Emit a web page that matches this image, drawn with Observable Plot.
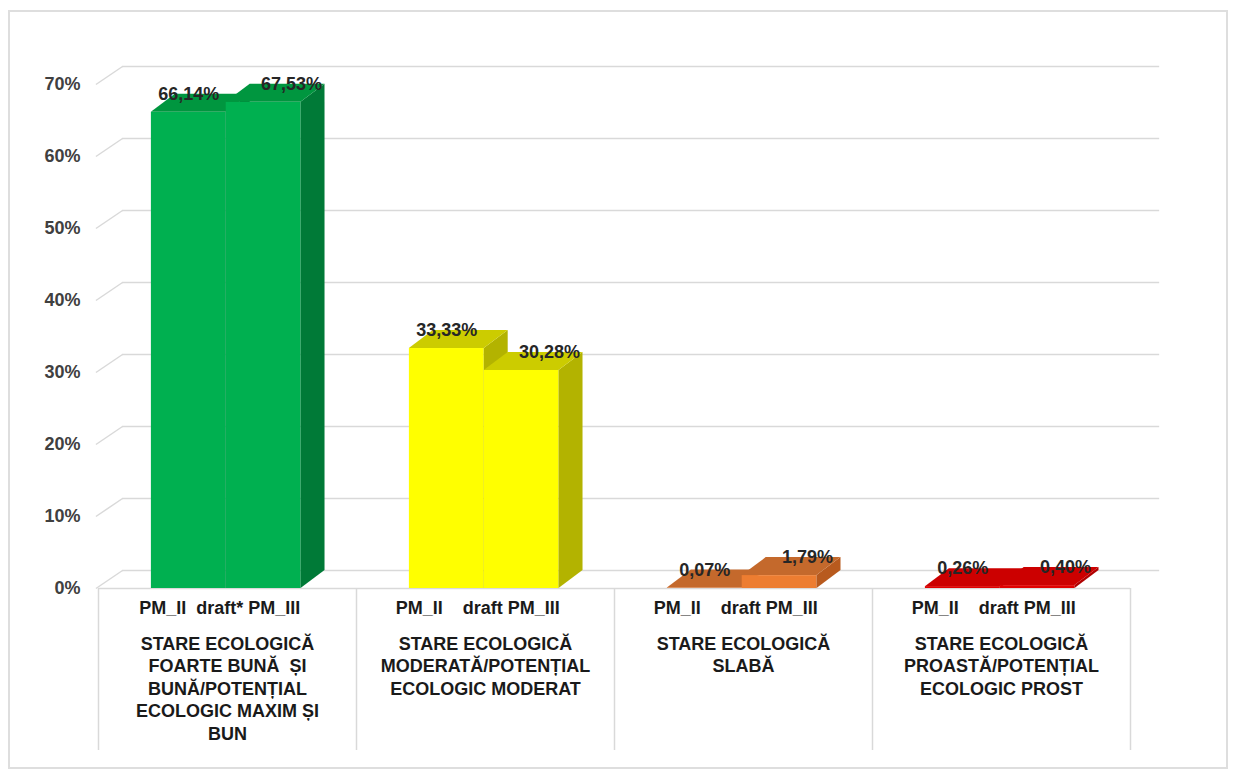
<!DOCTYPE html>
<html><head><meta charset="utf-8">
<script src="https://cdn.jsdelivr.net/npm/d3@7"></script>
<script src="https://cdn.jsdelivr.net/npm/@observablehq/plot@0.6"></script>
<style>
body{margin:0;background:#fff;}
#wrap{position:relative;width:1236px;height:773px;}
#frame{position:absolute;left:8px;top:10px;width:1220px;height:759px;border:2px solid #dedede;pointer-events:none;box-sizing:border-box;}
svg text{white-space:pre;}
g[aria-label="category-names"] text{letter-spacing:0.7px;}
</style></head><body><div id="wrap"><div id="frame"></div></div>
<script>
// ---- data ----
const categories = [
  "STARE ECOLOGICĂ\nFOARTE BUNĂ  ȘI\nBUNĂ/POTENȚIAL\nECOLOGIC MAXIM ȘI\nBUN",
  "STARE ECOLOGICĂ\nMODERATĂ/POTENȚIAL\nECOLOGIC MODERAT",
  "STARE ECOLOGICĂ\nSLABĂ",
  "STARE ECOLOGICĂ\nPROASTĂ/POTENȚIAL\nECOLOGIC PROST"
];
const seriesRow = ["PM_II  draft* PM_III", "PM_II    draft PM_III", "PM_II    draft PM_III", "PM_II    draft PM_III"];
const pmII  = [66.14, 33.33, 0.07, 0.26];
const pmIII = [67.53, 30.28, 1.79, 0.40];
const yTicks = [0, 10, 20, 30, 40, 50, 60, 70];
const frontColors = ["#00B050", "#FFFF00", "#ED7D31", "#E00000"];
const sideColors  = ["#007A37", "#B3B300", "#B85A1E", "#B00000"];
const topColors   = ["#00963F", "#CCCC00", "#C4692C", "#CC0000"];

// ---- geometry (3D look) ----
const DX = 0.093, DY = 2.5;
const BAR_START = 0.205, BAR_W = 0.29;
const GRID = "#d9d9d9";

const bars = [];
categories.forEach((c, i) => {
  [pmII[i], pmIII[i]].forEach((v, s) => {
    const x1 = i + BAR_START + s * BAR_W, x2 = x1 + BAR_W;
    bars.push({i, s, value: v, x1, x2});
  });
});

const barMarks = bars.flatMap(b => [
  Plot.rect([b], {x1: "x1", x2: "x2", y1: 0, y2: "value", fill: frontColors[b.i]}),
  Plot.areaY([{x: b.x2, y1: 0, y2: b.value}, {x: b.x2 + DX, y1: DY, y2: b.value + DY}],
    {x: "x", y1: "y1", y2: "y2", fill: sideColors[b.i]}),
  Plot.areaX([{y: b.value, x1: b.x1, x2: b.x2}, {y: b.value + DY, x1: b.x1 + DX, x2: b.x2 + DX}],
    {y: "y", x1: "x1", x2: "x2", fill: topColors[b.i]})
]);

const labelData = bars.map(b => ({
  x: (b.x1 + b.x2) / 2 + (b.s ? 0.108 : 0),
  y: b.value + DY,
  text: b.value.toFixed(2).replace(".", ",") + "%"
}));

const font = "'Liberation Sans', Arial, sans-serif";

const chart = Plot.plot({
  width: 1236, height: 773,
  marginLeft: 98, marginRight: 106, marginTop: 84, marginBottom: 23,
  x: {type: "linear", domain: [0, 4], axis: null},
  y: {type: "linear", domain: [-22.5, 70], axis: null},
  style: {fontFamily: font, background: "transparent"},
  marks: [
    Plot.ruleY(yTicks, {y: d => d + DY, x1: DX, x2: 4 + DX + 0.02, stroke: GRID, strokeWidth: 1.5}),
    Plot.link(yTicks, {x1: -0.01, y1: d => d, x2: DX, y2: d => d + DY, stroke: GRID, strokeWidth: 1.5}),
    Plot.ruleY([0], {x1: 0, x2: 4, stroke: GRID, strokeWidth: 1.5}),
    Plot.ruleX([0, 1, 2, 3, 4], {y1: -22.5, y2: 0, stroke: GRID, strokeWidth: 1.5}),
    Plot.text(yTicks, {x: 0, y: d => d, text: d => d + "%", textAnchor: "end", dx: -18,
      fontSize: 18, fontWeight: "bold", fill: "#404040"}),
    ...barMarks,
    Plot.text(labelData, {x: "x", y: "y", text: "text", fontSize: 18, fontWeight: "bold", fill: "#262626"}),
    Plot.text(seriesRow, {x: (d, i) => i + 0.47, y: -2.8, text: d => d,
      fontSize: 18, fontWeight: "bold", fill: "#1a1a1a"}),
    Plot.text(categories, {x: (d, i) => i + 0.5, y: -6.3, text: d => d, lineAnchor: "top", lineHeight: 1.25,
      fontSize: 18, fontWeight: "bold", fill: "#1a1a1a", ariaLabel: "category-names"})
  ]
});
document.getElementById("wrap").prepend(chart);
</script>
</body></html>
